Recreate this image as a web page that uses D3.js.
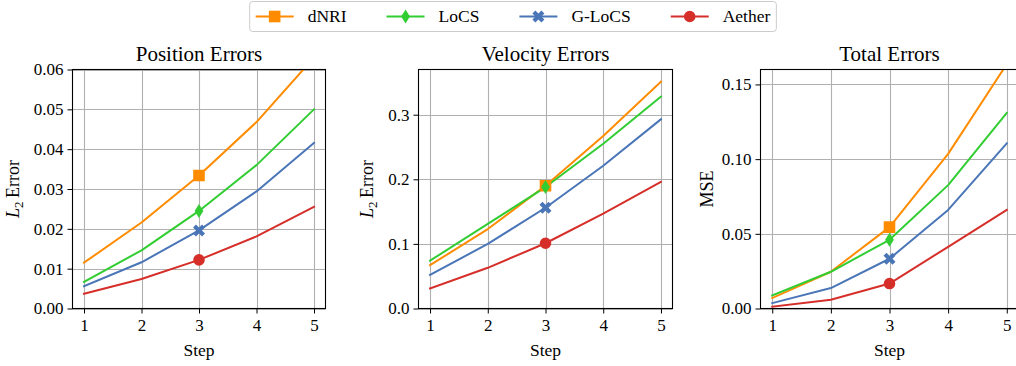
<!DOCTYPE html>
<html>
<head>
<meta charset="utf-8">
<script src="https://cdn.jsdelivr.net/npm/d3@7"></script>
<style>
  html, body { margin: 0; padding: 0; background: #fff; }
  svg { display: block; font-family: "Liberation Serif", "DejaVu Serif", serif; }
</style>
</head>
<body>
<svg id="chart" width="1016" height="366"></svg>
<script>
// Rollout steps and methods
const steps = [1, 2, 3, 4, 5];
const methods = ["dNRI", "LoCS", "G-LoCS", "Aether"];

// Position L2 error per method (rows follow `methods`)
const positionErrors = [
  [0.0115, 0.0216, 0.0334, 0.0468, 0.0630],
  [0.0067, 0.0146, 0.0245, 0.0360, 0.0500],
  [0.0056, 0.0116, 0.0196, 0.0294, 0.0416],
  [0.0037, 0.0074, 0.0122, 0.0181, 0.0255]
];

// Velocity L2 error per method
const velocityErrors = [
  [0.067, 0.123, 0.190, 0.267, 0.351],
  [0.074, 0.131, 0.188, 0.255, 0.328],
  [0.052, 0.100, 0.156, 0.221, 0.293],
  [0.031, 0.063, 0.101, 0.147, 0.196]
];

// Total MSE per method
const totalErrors = [
  [0.0070, 0.0246, 0.0545, 0.1035, 0.1636],
  [0.0087, 0.0246, 0.0460, 0.0826, 0.1310],
  [0.0036, 0.0137, 0.0333, 0.0660, 0.1105],
  [0.0012, 0.0058, 0.0167, 0.0413, 0.0660]
];

// Tick values of each panel's y axis
const posTicks = [0, 0.01, 0.02, 0.03, 0.04, 0.05, 0.06];
const velTicks = [0, 0.1, 0.2, 0.3];
const totTicks = [0, 0.05, 0.10, 0.15];

// Styles
const colors = ["#ff8c00", "#32cd32", "#4a76b8", "#d62f2a"];
const markers = ["square", "diamond", "xfill", "circle"];
const markedStep = 3;

const svg = d3.select("#chart");

// Marker path generators, centred at the origin
function markerPath(kind) {
  if (kind === "square") {
    const s = 5.8;
    return `M${-s},${-s}H${s}V${s}H${-s}Z`;
  }
  if (kind === "diamond") {
    const w = 4.4, h = 7;
    return `M0,${-h}L${w},0L0,${h}L${-w},0Z`;
  }
  if (kind === "xfill") {
    // filled "X": a plus of arm half-width a and reach r, rotated 45°
    const a = 2.1, r = 6.4;
    const pts = [[-a, -r], [a, -r], [a, -a], [r, -a], [r, a], [a, a], [a, r], [-a, r], [-a, a], [-r, a], [-r, -a], [-a, -a]];
    const c = Math.SQRT1_2;
    return "M" + pts.map(([x, y]) => [(x - y) * c, (x + y) * c].map(v => v.toFixed(2)).join(",")).join("L") + "Z";
  }
  // circle
  const r = 5.8;
  return `M${r},0A${r},${r} 0 1,1 ${-r},0A${r},${r} 0 1,1 ${r},0Z`;
}

const panels = [
  { title: "Position Errors", data: positionErrors, ticks: posTicks, fmt: d3.format(".2f"),
    domain: [0, 0.06], left: 72.5, right: 325.5, ylabel: "L2", ylabelX: 19 },
  { title: "Velocity Errors", data: velocityErrors, ticks: velTicks, fmt: d3.format(".1f"),
    domain: [0, 0.37], left: 418.5, right: 672.5, ylabel: "L2", ylabelX: 373 },
  { title: "Total Errors", data: totalErrors, ticks: totTicks, fmt: d3.format(".2f"),
    domain: [0, 0.16], left: 760.5, right: 1018.5, ylabel: "MSE", ylabelX: 713 }
];

const plotTop = 69.5, plotBottom = 308.5;

panels.forEach((p, pi) => {
  const x = d3.scaleLinear().domain([0.8, 5.2]).range([p.left, p.right]);
  const y = d3.scaleLinear().domain(p.domain).range([plotBottom, plotTop]);
  const g = svg.append("g");

  const clipId = "clip" + pi;
  svg.append("clipPath").attr("id", clipId)
    .append("rect").attr("x", p.left).attr("y", plotTop)
    .attr("width", p.right - p.left).attr("height", plotBottom - plotTop);

  // grid
  const grid = g.append("g").attr("stroke", "#b0b0b0").attr("stroke-width", 1.1);
  grid.selectAll("line.vx").data(steps).join("line")
    .attr("x1", d => Math.round(x(d)) + 0.5).attr("x2", d => Math.round(x(d)) + 0.5)
    .attr("y1", plotTop).attr("y2", plotBottom);
  grid.selectAll("line.hy").data(p.ticks).join("line")
    .attr("x1", p.left).attr("x2", p.right)
    .attr("y1", d => Math.round(y(d)) + 0.5).attr("y2", d => Math.round(y(d)) + 0.5);

  // lines
  const lineGen = d3.line().x((d, i) => x(steps[i])).y(d => y(d));
  const series = g.append("g").attr("clip-path", `url(#${clipId})`);
  p.data.forEach((vals, mi) => {
    series.append("path").attr("d", lineGen(vals))
      .attr("fill", "none").attr("stroke", colors[mi])
      .attr("stroke-width", 2).attr("stroke-linejoin", "round").attr("stroke-linecap", "square");
  });
  p.data.forEach((vals, mi) => {
    const idx = steps.indexOf(markedStep);
    series.append("path").attr("d", markerPath(markers[mi]))
      .attr("transform", `translate(${x(steps[idx])},${y(vals[idx])})`)
      .attr("fill", colors[mi]);
  });

  // axes
  const xAxis = d3.axisBottom(x).tickValues(steps).tickSize(5).tickPadding(4).tickFormat(d3.format("d"));
  const yAxis = d3.axisLeft(y).tickValues(p.ticks).tickSize(5).tickPadding(4).tickFormat(p.fmt);
  const gx = g.append("g").attr("transform", `translate(0,${plotBottom})`).call(xAxis);
  const gy = g.append("g").attr("transform", `translate(${p.left},0)`).call(yAxis);
  [gx, gy].forEach(a => {
    a.select(".domain").remove();
    a.selectAll(".tick line").attr("stroke", "#000").attr("stroke-width", 1);
    a.selectAll(".tick text").attr("font-family", "Liberation Serif, serif")
      .attr("font-size", 17).attr("fill", "#000");
  });
  gx.selectAll(".tick text").attr("dy", "0.78em");

  // spines
  g.append("rect").attr("x", p.left).attr("y", plotTop)
    .attr("width", p.right - p.left).attr("height", plotBottom - plotTop)
    .attr("fill", "none").attr("stroke", "#000").attr("stroke-width", 1.1);

  // title
  g.append("text").attr("x", (p.left + p.right) / 2).attr("y", 61)
    .attr("text-anchor", "middle").attr("font-size", 21).text(p.title);

  // x label
  g.append("text").attr("x", (p.left + p.right) / 2).attr("y", 356)
    .attr("text-anchor", "middle").attr("font-size", 17.5).text("Step");

  // y label
  const yl = g.append("text")
    .attr("transform", `translate(${p.ylabelX},${(plotTop + plotBottom) / 2}) rotate(-90)`)
    .attr("text-anchor", "middle").attr("font-size", 18);
  if (p.ylabel === "L2") {
    yl.append("tspan").attr("font-style", "italic").text("L");
    yl.append("tspan").attr("font-size", 13).attr("dy", 4).text("2");
    yl.append("tspan").attr("dy", -4).text("\u2009Error");
  } else {
    yl.text(p.ylabel);
  }
});

// legend
const legend = svg.append("g");
const legendBox = legend.append("rect")
  .attr("fill", "#fff").attr("stroke", "#cccccc").attr("stroke-width", 1).attr("rx", 3);
const handleLen = 38, handlePad = 14, colGap = 40;
let cx = 0;
const items = legend.append("g");
methods.forEach((m, i) => {
  const it = items.append("g").attr("transform", `translate(${cx},0)`);
  it.append("line").attr("x1", 0).attr("x2", handleLen).attr("y1", 0).attr("y2", 0)
    .attr("stroke", colors[i]).attr("stroke-width", 2);
  it.append("path").attr("d", markerPath(markers[i]))
    .attr("transform", `translate(${handleLen / 2},0)`).attr("fill", colors[i]);
  const t = it.append("text").attr("x", handleLen + handlePad).attr("y", 0).attr("dy", "0.33em")
    .attr("font-size", 17.5).text(m);
  cx += handleLen + handlePad + t.node().getComputedTextLength() + colGap;
});
const totalW = cx - colGap;
const legendCx = 513, legendCy = 16.5;
items.attr("transform", `translate(${legendCx - totalW / 2},${legendCy})`);
const padX = 6;
legendBox.attr("x", legendCx - totalW / 2 - padX).attr("y", 1.5)
  .attr("width", totalW + 2 * padX).attr("height", 30);
</script>
</body>
</html>
